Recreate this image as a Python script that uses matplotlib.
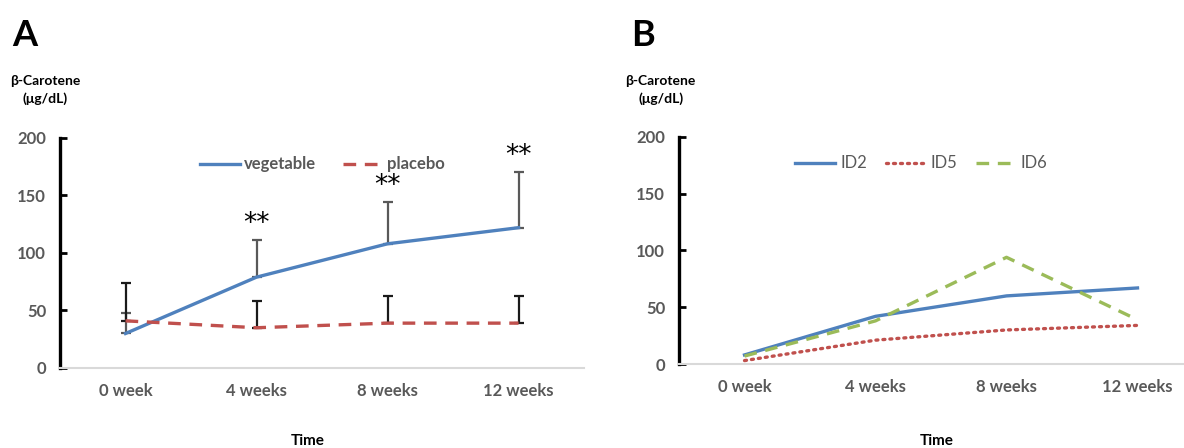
import matplotlib
matplotlib.use('Agg')
import matplotlib.pyplot as plt

plt.rcParams['font.family'] = ['Lato', 'DejaVu Sans']

weeks = ['0 week', '4 weeks', '8 weeks', '12 weeks']
vegetable = [30, 79, 108, 122]
vegetable_sd = [18, 32, 36, 48]
placebo = [41, 35, 39, 39]
placebo_sd = [33, 23, 24, 24]
signif = ['', '**', '**', '**']

id2 = [8, 42, 60, 67]
id5 = [3, 21, 30, 34]
id6 = [7, 38, 94, 39]

blue = '#4F81BD'
red = '#C0504D'
green = '#9BBB59'
gray = '#595959'


def style_axis(ax, xmax):
    x = range(len(weeks))
    ax.set_xlim(-0.5, xmax)
    ax.set_ylim(0, 200)
    ax.set_yticks([0, 50, 100, 150, 200])
    ax.set_xticks(list(x))
    ax.set_xticklabels(weeks)
    for s in ['top', 'right']:
        ax.spines[s].set_visible(False)
    ax.spines['left'].set_linewidth(2.4)
    ax.spines['left'].set_color('black')
    ax.spines['bottom'].set_color('#d9d9d9')
    ax.spines['bottom'].set_linewidth(1.5)
    ax.tick_params(axis='y', direction='in', length=5, width=2, color='black',
                   labelsize=12, labelcolor=gray, pad=10)
    ax.tick_params(axis='x', length=0, labelsize=12, labelcolor=gray, pad=11)
    for lab in ax.get_xticklabels() + ax.get_yticklabels():
        lab.set_fontweight('bold')


fig = plt.figure(figsize=(11.84, 4.48), dpi=100)

# panel A
axA = fig.add_axes([0.0507, 0.1786, 0.4426, 0.5134])
x = list(range(len(weeks)))
axA.plot(x, vegetable, color=blue, lw=2.4, label='vegetable', zorder=3)
axA.plot(x, placebo, color=red, lw=2.4, ls=(0, (3.8, 2.6)), label='placebo', zorder=3)
axA.errorbar(x, vegetable, yerr=[[0] * 4, vegetable_sd], fmt='none',
             ecolor=gray, elinewidth=1.6, capsize=3.5, capthick=1.6, zorder=2)
axA.errorbar(x, placebo, yerr=[[0] * 4, placebo_sd], fmt='none',
             ecolor='#1a1a1a', elinewidth=1.6, capsize=3.5, capthick=1.6, zorder=2)
for i, s in enumerate(signif):
    if s:
        axA.text(i, vegetable[i] + vegetable_sd[i] + 3, s, ha='center', va='bottom',
                 fontsize=19, family='DejaVu Sans')
style_axis(axA, 3.5)
axA.legend(loc='upper center', bbox_to_anchor=(0.5, 0.985), ncol=2, frameon=False,
           handlelength=2.4, handletextpad=0.25, columnspacing=1.6,
           prop={'weight': 'bold', 'size': 12}, labelcolor=gray)

# panel B
axB = fig.add_axes([0.5735, 0.1875, 0.4265, 0.5067])
axB.plot(x, id2, color=blue, lw=2.4, label='ID2')
axB.plot(x, id5, color=red, lw=2.4, ls=(0, (0.6, 1.5)), dash_capstyle='round', label='ID5')
axB.plot(x, id6, color=green, lw=2.4, ls=(0, (3.8, 2.6)), label='ID6')
style_axis(axB, 3.355)
axB.legend(loc='upper center', bbox_to_anchor=(0.48, 0.985), ncol=3, frameon=False,
           handlelength=2.4, handletextpad=0.3, columnspacing=1.1,
           prop={'size': 12}, labelcolor=gray)

# labels
for xl, yl_x, letter, time_x in [(0.021, 0.038, 'A', 0.26), (0.543, 0.558, 'B', 0.791)]:
    fig.text(xl, 0.92, letter, fontsize=26, fontweight='bold', ha='center', va='center')
    fig.text(yl_x, 0.80, 'β-Carotene\n(μg/dL)', fontsize=10, fontweight='bold',
             ha='center', va='center', linespacing=1.5)
    fig.text(time_x, 0.015, 'Time', fontsize=11, fontweight='bold', ha='center', va='center')

fig.savefig('out.png', dpi=100)
